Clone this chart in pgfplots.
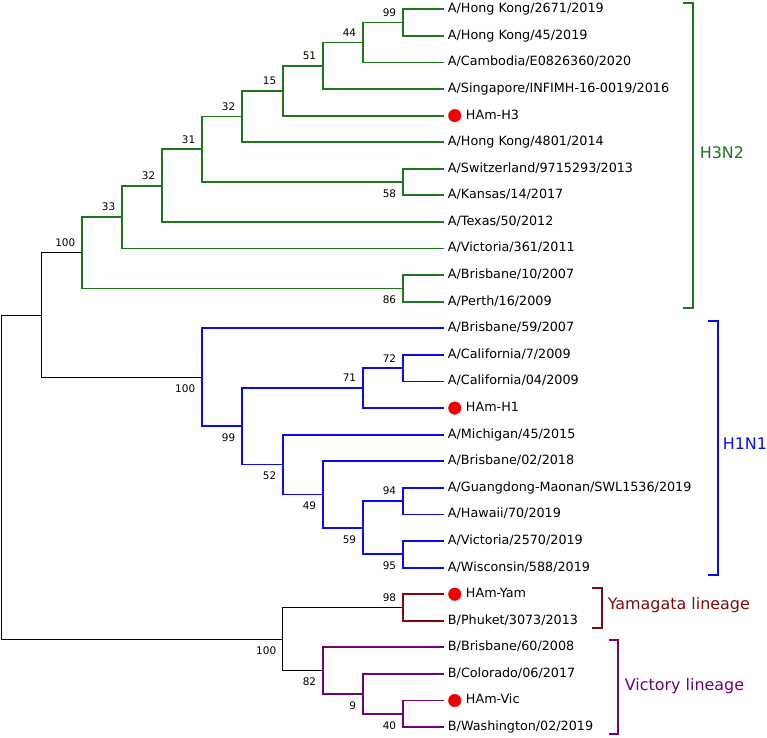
\documentclass[border=0pt]{standalone}
\usepackage{fontspec}
\setmainfont{DejaVu Sans}
\usepackage{pgfplots}
\pgfplotsset{compat=1.18}
\definecolor{hgreen}{RGB}{25,120,25}
\definecolor{hblue}{RGB}{10,10,245}
\definecolor{ymred}{RGB}{128,10,10}
\definecolor{vpurple}{RGB}{112,0,120}
\definecolor{dotred}{RGB}{240,0,0}
\tikzset{
  leaf/.style={anchor=base west, inner sep=0pt, font=\fontsize{12.8}{14}\selectfont},
  boot/.style={anchor=base east, inner sep=0pt, font=\fontsize{10.5}{12}\selectfont},
  clade/.style={anchor=base west, inner sep=0pt, font=\fontsize{16}{18}\selectfont},
  brG/.style={hgreen, line width=1.8bp, mark=none, line join=miter, line cap=rect},
  brB/.style={hblue, line width=1.8bp, mark=none, line join=miter, line cap=rect},
  brY/.style={ymred, line width=1.8bp, mark=none, line join=miter, line cap=rect},
  brP/.style={vpurple, line width=1.8bp, mark=none, line join=miter, line cap=rect},
  brK/.style={black, line width=1bp, mark=none, line join=miter},
}
\begin{document}
\begin{tikzpicture}
\begin{axis}[scale only axis, width=767bp, height=738bp,
  xmin=0, xmax=767, ymin=0, ymax=738, y dir=reverse,
  hide axis, clip=false]
\addplot[draw=none] coordinates {(0,0) (767,738)};
% ---- H3N2 (green)
\addplot[brG] coordinates {(443,9.3) (403,9.3) (403,35.9) (443,35.9)};
\addplot[brG] coordinates {(403,22.6) (363,22.6) (363,62.5) (443,62.5)};
\addplot[brG] coordinates {(363,42.55) (323,42.55) (323,89.1) (443,89.1)};
\addplot[brG] coordinates {(323,65.8) (283,65.8) (283,115.7) (443,115.7)};
\addplot[brG] coordinates {(283,90.75) (242,90.75) (242,142.3) (443,142.3)};
\addplot[brG] coordinates {(443,168.9) (403,168.9) (403,195.5) (443,195.5)};
\addplot[brG] coordinates {(242,116.5) (202,116.5) (202,182.2) (403,182.2)};
\addplot[brG] coordinates {(202,149.35) (162,149.35) (162,222.1) (443,222.1)};
\addplot[brG] coordinates {(162,185.7) (122,185.7) (122,248.7) (443,248.7)};
\addplot[brG] coordinates {(443,275.3) (403,275.3) (403,301.9) (443,301.9)};
\addplot[brG] coordinates {(122,217.2) (82,217.2) (82,288.6) (403,288.6)};
% ---- black backbone
\addplot[brK] coordinates {(82,252.9) (42,252.9) (42,377.55) (202,377.55)};
\addplot[brK] coordinates {(42,315.2) (2,315.2) (2,639.4) (283,639.4)};
\addplot[brK] coordinates {(403,607.8) (283,607.8) (283,670.98) (323,670.98)};
% ---- H1N1 (blue)
\addplot[brB] coordinates {(443,328.5) (202,328.5) (202,426.6) (242,426.6)};
\addplot[brB] coordinates {(363,388.35) (242,388.35) (242,464.8) (283,464.8)};
\addplot[brB] coordinates {(403,368.4) (363,368.4) (363,408.3) (443,408.3)};
\addplot[brB] coordinates {(443,355.1) (403,355.1) (403,381.7) (443,381.7)};
\addplot[brB] coordinates {(443,434.9) (283,434.9) (283,494.75) (323,494.75)};
\addplot[brB] coordinates {(443,461.5) (323,461.5) (323,528) (363,528)};
\addplot[brB] coordinates {(403,501.4) (363,501.4) (363,554.6) (403,554.6)};
\addplot[brB] coordinates {(443,488.1) (403,488.1) (403,514.7) (443,514.7)};
\addplot[brB] coordinates {(443,541.3) (403,541.3) (403,567.9) (443,567.9)};
% ---- Yamagata (dark red)
\addplot[brY] coordinates {(443,594.5) (403,594.5) (403,621.1) (443,621.1)};
% ---- Victoria (purple)
\addplot[brP] coordinates {(443,647.7) (323,647.7) (323,694.25) (363,694.25)};
\addplot[brP] coordinates {(443,674.3) (363,674.3) (363,714.2) (403,714.2)};
\addplot[brP] coordinates {(443,700.9) (403,700.9) (403,727.5) (443,727.5)};
% ---- brackets
\addplot[brG] coordinates {(684,3) (693,3) (693,308) (684,308)};
\addplot[brB] coordinates {(709,321) (718,321) (718,575) (709,575)};
\addplot[brY] coordinates {(593,588) (602,588) (602,628) (593,628)};
\addplot[brP] coordinates {(610,640) (618,640) (618,734) (610,734)};
% ---- red dots
\addplot[only marks, mark=*, mark size=6.3pt, dotred, mark options={draw=dotred, fill=dotred}] coordinates {(455,115.7) (455,408.3) (455,594.5) (455,700.9)};
% ---- leaf labels
\node[leaf] at (axis cs:448,12.7) {A/Hong Kong/2671/2019};
\node[leaf] at (axis cs:448,39.3) {A/Hong Kong/45/2019};
\node[leaf] at (axis cs:448,65.9) {A/Cambodia/E0826360/2020};
\node[leaf] at (axis cs:448,92.5) {A/Singapore/INFIMH-16-0019/2016};
\node[leaf] at (axis cs:466,119.1) {HAm-H3};
\node[leaf] at (axis cs:448,145.7) {A/Hong Kong/4801/2014};
\node[leaf] at (axis cs:448,172.3) {A/Switzerland/9715293/2013};
\node[leaf] at (axis cs:448,198.9) {A/Kansas/14/2017};
\node[leaf] at (axis cs:448,225.5) {A/Texas/50/2012};
\node[leaf] at (axis cs:448,252.1) {A/Victoria/361/2011};
\node[leaf] at (axis cs:448,278.7) {A/Brisbane/10/2007};
\node[leaf] at (axis cs:448,305.3) {A/Perth/16/2009};
\node[leaf] at (axis cs:448,331.9) {A/Brisbane/59/2007};
\node[leaf] at (axis cs:448,358.5) {A/California/7/2009};
\node[leaf] at (axis cs:448,385.1) {A/California/04/2009};
\node[leaf] at (axis cs:466,411.7) {HAm-H1};
\node[leaf] at (axis cs:448,438.3) {A/Michigan/45/2015};
\node[leaf] at (axis cs:448,464.9) {A/Brisbane/02/2018};
\node[leaf] at (axis cs:448,491.5) {A/Guangdong-Maonan/SWL1536/2019};
\node[leaf] at (axis cs:448,518.1) {A/Hawaii/70/2019};
\node[leaf] at (axis cs:448,544.7) {A/Victoria/2570/2019};
\node[leaf] at (axis cs:448,571.3) {A/Wisconsin/588/2019};
\node[leaf] at (axis cs:466,597.9) {HAm-Yam};
\node[leaf] at (axis cs:448,624.5) {B/Phuket/3073/2013};
\node[leaf] at (axis cs:448,651.1) {B/Brisbane/60/2008};
\node[leaf] at (axis cs:448,677.7) {B/Colorado/06/2017};
\node[leaf] at (axis cs:466,704.3) {HAm-Vic};
\node[leaf] at (axis cs:448,730.9) {B/Washington/02/2019};
% ---- bootstrap values
\node[boot] at (axis cs:396.5,16.4) {99};
\node[boot] at (axis cs:356.5,36.35) {44};
\node[boot] at (axis cs:316.5,59.6) {51};
\node[boot] at (axis cs:276.5,84.55) {15};
\node[boot] at (axis cs:235.5,110.3) {32};
\node[boot] at (axis cs:195.5,143.15) {31};
\node[boot] at (axis cs:155.5,179.5) {32};
\node[boot] at (axis cs:115.5,211) {33};
\node[boot] at (axis cs:75.5,246.7) {100};
\node[boot] at (axis cs:396.5,197.5) {58};
\node[boot] at (axis cs:396.5,303.9) {86};
\node[boot] at (axis cs:195.5,392.85) {100};
\node[boot] at (axis cs:235.5,441.9) {99};
\node[boot] at (axis cs:356.5,382.15) {71};
\node[boot] at (axis cs:396.5,362.2) {72};
\node[boot] at (axis cs:276.5,480.1) {52};
\node[boot] at (axis cs:316.5,510.05) {49};
\node[boot] at (axis cs:356.5,543.3) {59};
\node[boot] at (axis cs:396.5,495.2) {94};
\node[boot] at (axis cs:396.5,569.9) {95};
\node[boot] at (axis cs:396.5,601.6) {98};
\node[boot] at (axis cs:276.5,654.7) {100};
\node[boot] at (axis cs:316.5,686.3) {82};
\node[boot] at (axis cs:356.5,709.55) {9};
\node[boot] at (axis cs:396.5,729.5) {40};
% ---- clade names
\node[clade, text=hgreen] at (axis cs:700,158.3) {H3N2};
\node[clade, text=hblue] at (axis cs:723,450) {H1N1};
\node[clade, text=ymred] at (axis cs:608,610) {Yamagata lineage};
\node[clade, text=vpurple] at (axis cs:625,691) {Victory lineage};
\end{axis}
\end{tikzpicture}
\end{document}
